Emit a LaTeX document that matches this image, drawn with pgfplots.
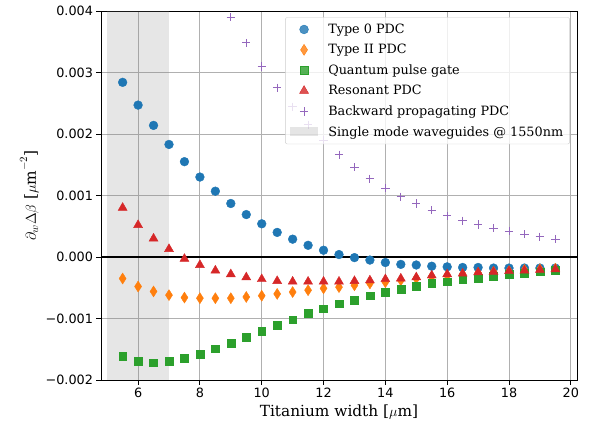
\documentclass[border=0pt]{standalone}
\usepackage{pgfplots}
\pgfplotsset{compat=1.18}
\usepackage{fontspec}
\setmainfont{DejaVu Serif}
\newfontfamily\ticksfont{DejaVu Sans}
\definecolor{c0}{HTML}{1F77B4}
\definecolor{c1}{HTML}{FF7F0E}
\definecolor{c2}{HTML}{2CA02C}
\definecolor{c3}{HTML}{D62728}
\definecolor{c4}{HTML}{9467BD}
\definecolor{gridc}{HTML}{B0B0B0}
\newcommand\fs{\fontsize{12.85pt}{15pt}\selectfont}
\newcommand\fl{\fontsize{15.4pt}{18pt}\selectfont}
\begin{document}
\begin{tikzpicture}
\begin{axis}[
  at={(0,0)}, anchor=south west,
  scale only axis, width=476bp, height=369bp,
  xmin=4.8, xmax=20.2, ymin=-0.002, ymax=0.004,
  xtick={6,8,...,20},
  ytick={-0.002,-0.001,0,0.001,0.002,0.003,0.004},
  yticklabels={−0.002,−0.001,0.000,0.001,0.002,0.003,0.004},
  xticklabels={6,8,10,12,14,16,18,20},
  scaled y ticks=false,
  tick label style={font=\ticksfont\fs},
  xlabel={\fl Titanium width [$\mu$m]},
  ylabel={\fl $\partial_w\Delta\beta$ [$\mu\mathrm{m}^{-2}$]},
  tick align=outside, tick pos=left,
  major tick length=4.5bp,
  every tick/.style={black, line width=0.9bp},
  axis line style={line width=0.9bp},
  grid=major,
  major grid style={gridc, line width=0.9bp},
  legend cell align=left,
  legend style={at={(0.985,0.983)}, anchor=north east, font=\fs,
    draw=black!20, rounded corners=2bp, fill=white, fill opacity=0.8, text opacity=1,
    row sep=5.4bp, column sep=6bp, inner sep=4.5bp},
  legend image code/.code={\path (0bp,0bp) (30bp,0bp);\draw[mark repeat=2,mark phase=2,#1] plot coordinates {(0bp,0bp) (14bp,0bp) (28bp,0bp)};},
]
\addplot[fill=gray, fill opacity=0.2, draw=none, forget plot] coordinates {(5,-0.002) (5,0.004) (7,0.004) (7,-0.002)} -- cycle;
\addplot[black, line width=1.6bp, forget plot] coordinates {(4.8,0) (20.2,0)};

\addplot[only marks, mark=*, mark size=4.4bp, mark options={draw=c0, fill=c0}] coordinates {
(5.5,0.00284) (6,0.00247) (6.5,0.00214) (7,0.00183) (7.5,0.00155) (8,0.00130) (8.5,0.00107) (9,0.00087) (9.5,0.00069) (10,0.00054) (10.5,0.00040) (11,0.00029) (11.5,0.00019) (12,0.00011) (12.5,0.00004) (13,-0.00001) (13.5,-0.00005) (14,-0.00009) (14.5,-0.00012) (15,-0.00013) (15.5,-0.00015) (16,-0.00016) (16.5,-0.00017) (17,-0.00017) (17.5,-0.00018) (18,-0.00018) (18.5,-0.00018) (19,-0.00018) (19.5,-0.00018)};
\addlegendentry{Type 0 PDC}

\addplot[only marks, mark=diamond*, mark size=5.5bp, mark options={draw=c1, fill=c1, xscale=0.85}] coordinates {
(5.5,-0.00035) (6,-0.00048) (6.5,-0.00056) (7,-0.00062) (7.5,-0.00066) (8,-0.00067) (8.5,-0.00067) (9,-0.00067) (9.5,-0.00065) (10,-0.00063) (10.5,-0.00060) (11,-0.00057) (11.5,-0.00054) (12,-0.00051) (12.5,-0.00049) (13,-0.00046) (13.5,-0.00043) (14,-0.00041) (14.5,-0.00038) (15,-0.00035) (15.5,-0.00032) (16,-0.00030) (16.5,-0.00028) (17,-0.00026) (17.5,-0.00024) (18,-0.00023) (18.5,-0.00021) (19,-0.00020) (19.5,-0.00019)};
\addlegendentry{Type II PDC}

\addplot[only marks, mark=square*, mark size=3.9bp, mark options={draw=c2, fill=c2}] coordinates {
(5.5,-0.00161) (6,-0.00169) (6.5,-0.00172) (7,-0.00170) (7.5,-0.00164) (8,-0.00158) (8.5,-0.00149) (9,-0.00140) (9.5,-0.00130) (10,-0.00120) (10.5,-0.00111) (11,-0.00102) (11.5,-0.00092) (12,-0.00084) (12.5,-0.00076) (13,-0.00070) (13.5,-0.00063) (14,-0.00057) (14.5,-0.00052) (15,-0.00048) (15.5,-0.00043) (16,-0.00040) (16.5,-0.00037) (17,-0.00034) (17.5,-0.00031) (18,-0.00028) (18.5,-0.00026) (19,-0.00024) (19.5,-0.00022)};
\addlegendentry{Quantum pulse gate}

\addplot[only marks, mark=triangle*, mark size=5.2bp, mark options={draw=c3, fill=c3}] coordinates {
(5.5,0.00080) (6,0.00052) (6.5,0.00030) (7,0.00013) (7.5,-0.00003) (8,-0.00013) (8.5,-0.00022) (9,-0.00028) (9.5,-0.00033) (10,-0.00036) (10.5,-0.00039) (11,-0.00040) (11.5,-0.00040) (12,-0.00040) (12.5,-0.00040) (13,-0.00039) (13.5,-0.00038) (14,-0.00036) (14.5,-0.00035) (15,-0.00033) (15.5,-0.00030) (16,-0.00028) (16.5,-0.00027) (17,-0.00025) (17.5,-0.00024) (18,-0.00023) (18.5,-0.00022) (19,-0.00021) (19.5,-0.00020)};
\addlegendentry{Resonant PDC}

\addplot[only marks, mark=+, mark size=4.2bp, mark options={draw=c4, line width=1bp}] coordinates {
(8,0.00495) (8.5,0.00438) (9,0.00390) (9.5,0.00348) (10,0.00310) (10.5,0.00275) (11,0.00244) (11.5,0.00215) (12,0.00190) (12.5,0.00166) (13,0.00146) (13.5,0.00127) (14,0.00112) (14.5,0.00098) (15,0.00087) (15.5,0.00076) (16,0.00067) (16.5,0.00059) (17,0.00053) (17.5,0.00047) (18,0.00042) (18.5,0.00037) (19,0.00033) (19.5,0.00029)};
\addlegendentry{Backward propagating PDC}

\addlegendimage{legend image code/.code={\path (0bp,0bp) (30bp,0bp);\fill[gray, fill opacity=0.2, draw=none, sharp corners] (0bp,-4.5bp) rectangle (28bp,5bp);}}
\addlegendentry{Single mode waveguides @ 1550nm}
\end{axis}
\pgfresetboundingbox
\useasboundingbox (-101bp,-44bp) rectangle (491bp,380bp);
\end{tikzpicture}
\end{document}
